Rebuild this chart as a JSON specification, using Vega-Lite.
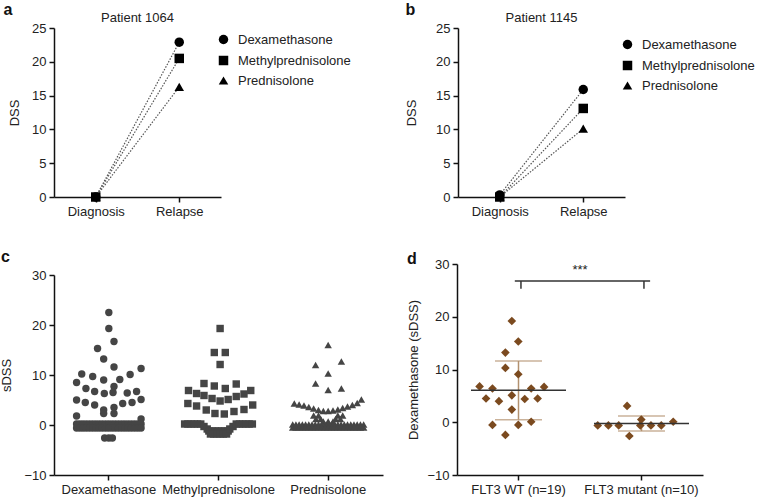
{
  "$schema": "https://vega.github.io/schema/vega-lite/v6.json",
  "background": "white",
  "padding": {"left": 0, "top": 2, "right": 2, "bottom": 2},
  "config": {
    "font": "Liberation Sans",
    "view": {"stroke": null},
    "axis": {"labelFontSize": 13, "titleFontSize": 13, "titleFontWeight": "normal", "labelColor": "#222", "titleColor": "#222", "domainColor": "#111", "domainWidth": 1.5, "tickColor": "#111", "tickWidth": 1.5, "tickSize": 5, "grid": false, "labelPadding": 3},
    "axisY": {"titlePadding": 10},
    "title": {"fontSize": 13, "fontWeight": "normal", "color": "#222"},
    "legend": {"labelFontSize": 13, "labelColor": "#222"}
  },
  "datasets": {
    "p1064": [
      {"time": "Diagnosis", "drug": "Dexamethasone", "DSS": 0},
      {"time": "Relapse", "drug": "Dexamethasone", "DSS": 22.9},
      {"time": "Diagnosis", "drug": "Methylprednisolone", "DSS": 0},
      {"time": "Relapse", "drug": "Methylprednisolone", "DSS": 20.5},
      {"time": "Diagnosis", "drug": "Prednisolone", "DSS": 0},
      {"time": "Relapse", "drug": "Prednisolone", "DSS": 16.3}
    ],
    "p1145": [
      {"time": "Diagnosis", "drug": "Dexamethasone", "DSS": 0.3},
      {"time": "Relapse", "drug": "Dexamethasone", "DSS": 15.9},
      {"time": "Diagnosis", "drug": "Methylprednisolone", "DSS": 0},
      {"time": "Relapse", "drug": "Methylprednisolone", "DSS": 13.1},
      {"time": "Diagnosis", "drug": "Prednisolone", "DSS": 0},
      {"time": "Relapse", "drug": "Prednisolone", "DSS": 10.1}
    ],
    "screen": [
      {"drug": "Dexamethasone", "slot": 0, "sDSS": 22.5},
      {"drug": "Dexamethasone", "slot": 0, "sDSS": 19.3},
      {"drug": "Dexamethasone", "slot": 1.6, "sDSS": 16.7},
      {"drug": "Dexamethasone", "slot": -3.5, "sDSS": 15.3},
      {"drug": "Dexamethasone", "slot": -1.6, "sDSS": 13.2},
      {"drug": "Dexamethasone", "slot": 1.6, "sDSS": 11.6},
      {"drug": "Dexamethasone", "slot": 10, "sDSS": 11.3},
      {"drug": "Dexamethasone", "slot": -8.4, "sDSS": 10.2},
      {"drug": "Dexamethasone", "slot": 6.6, "sDSS": 10.1},
      {"drug": "Dexamethasone", "slot": -5, "sDSS": 9.7},
      {"drug": "Dexamethasone", "slot": -10, "sDSS": 8.5},
      {"drug": "Dexamethasone", "slot": -1.6, "sDSS": 9.0},
      {"drug": "Dexamethasone", "slot": 3.4, "sDSS": 9.1},
      {"drug": "Dexamethasone", "slot": 1.6, "sDSS": 7.7},
      {"drug": "Dexamethasone", "slot": -7.1, "sDSS": 7.3},
      {"drug": "Dexamethasone", "slot": -4.4, "sDSS": 6.7},
      {"drug": "Dexamethasone", "slot": -1.4, "sDSS": 6.3},
      {"drug": "Dexamethasone", "slot": 1.3, "sDSS": 6.5},
      {"drug": "Dexamethasone", "slot": 5.7, "sDSS": 6.4},
      {"drug": "Dexamethasone", "slot": 8.6, "sDSS": 6.7},
      {"drug": "Dexamethasone", "slot": -10, "sDSS": 5.0},
      {"drug": "Dexamethasone", "slot": -7.3, "sDSS": 4.5},
      {"drug": "Dexamethasone", "slot": -4.4, "sDSS": 4.0},
      {"drug": "Dexamethasone", "slot": 4.3, "sDSS": 4.3},
      {"drug": "Dexamethasone", "slot": 7.2, "sDSS": 4.5},
      {"drug": "Dexamethasone", "slot": 10, "sDSS": 5.1},
      {"drug": "Dexamethasone", "slot": -1.6, "sDSS": 3.0},
      {"drug": "Dexamethasone", "slot": 1.6, "sDSS": 3.5},
      {"drug": "Dexamethasone", "slot": -1.6, "sDSS": 2.3},
      {"drug": "Dexamethasone", "slot": 1.6, "sDSS": 2.3},
      {"drug": "Dexamethasone", "slot": -10, "sDSS": 1.8},
      {"drug": "Dexamethasone", "slot": 10, "sDSS": 1.2},
      {"drug": "Dexamethasone", "slot": -10, "sDSS": 0.2},
      {"drug": "Dexamethasone", "slot": -9, "sDSS": 0.2},
      {"drug": "Dexamethasone", "slot": -8, "sDSS": 0.2},
      {"drug": "Dexamethasone", "slot": -7, "sDSS": 0.2},
      {"drug": "Dexamethasone", "slot": -6, "sDSS": 0.2},
      {"drug": "Dexamethasone", "slot": -5, "sDSS": 0.2},
      {"drug": "Dexamethasone", "slot": -4, "sDSS": 0.2},
      {"drug": "Dexamethasone", "slot": -3, "sDSS": 0.2},
      {"drug": "Dexamethasone", "slot": -2, "sDSS": 0.2},
      {"drug": "Dexamethasone", "slot": -1, "sDSS": 0.2},
      {"drug": "Dexamethasone", "slot": 0, "sDSS": 0.2},
      {"drug": "Dexamethasone", "slot": 1, "sDSS": 0.2},
      {"drug": "Dexamethasone", "slot": 2, "sDSS": 0.2},
      {"drug": "Dexamethasone", "slot": 3, "sDSS": 0.2},
      {"drug": "Dexamethasone", "slot": 4, "sDSS": 0.2},
      {"drug": "Dexamethasone", "slot": 5, "sDSS": 0.2},
      {"drug": "Dexamethasone", "slot": 6, "sDSS": 0.2},
      {"drug": "Dexamethasone", "slot": 7, "sDSS": 0.2},
      {"drug": "Dexamethasone", "slot": 8, "sDSS": 0.2},
      {"drug": "Dexamethasone", "slot": 9, "sDSS": 0.2},
      {"drug": "Dexamethasone", "slot": 10, "sDSS": 0.2},
      {"drug": "Dexamethasone", "slot": -10, "sDSS": -0.6},
      {"drug": "Dexamethasone", "slot": -9, "sDSS": -0.6},
      {"drug": "Dexamethasone", "slot": -8, "sDSS": -0.6},
      {"drug": "Dexamethasone", "slot": -7, "sDSS": -0.6},
      {"drug": "Dexamethasone", "slot": -6, "sDSS": -0.6},
      {"drug": "Dexamethasone", "slot": -5, "sDSS": -0.6},
      {"drug": "Dexamethasone", "slot": -4, "sDSS": -0.6},
      {"drug": "Dexamethasone", "slot": -3, "sDSS": -0.6},
      {"drug": "Dexamethasone", "slot": -2, "sDSS": -0.6},
      {"drug": "Dexamethasone", "slot": -1, "sDSS": -0.6},
      {"drug": "Dexamethasone", "slot": 0, "sDSS": -0.6},
      {"drug": "Dexamethasone", "slot": 1, "sDSS": -0.6},
      {"drug": "Dexamethasone", "slot": 2, "sDSS": -0.6},
      {"drug": "Dexamethasone", "slot": 3, "sDSS": -0.6},
      {"drug": "Dexamethasone", "slot": 4, "sDSS": -0.6},
      {"drug": "Dexamethasone", "slot": 5, "sDSS": -0.6},
      {"drug": "Dexamethasone", "slot": 6, "sDSS": -0.6},
      {"drug": "Dexamethasone", "slot": 7, "sDSS": -0.6},
      {"drug": "Dexamethasone", "slot": 8, "sDSS": -0.6},
      {"drug": "Dexamethasone", "slot": 9, "sDSS": -0.6},
      {"drug": "Dexamethasone", "slot": 10, "sDSS": -0.6},
      {"drug": "Dexamethasone", "slot": -1.3, "sDSS": -2.6},
      {"drug": "Dexamethasone", "slot": 0, "sDSS": -2.6},
      {"drug": "Dexamethasone", "slot": 1.1, "sDSS": -2.6},
      {"drug": "Methylprednisolone", "slot": 0.5, "sDSS": 19.3},
      {"drug": "Methylprednisolone", "slot": -1.3, "sDSS": 14.5},
      {"drug": "Methylprednisolone", "slot": 2.1, "sDSS": 14.5},
      {"drug": "Methylprednisolone", "slot": 0.5, "sDSS": 12.1},
      {"drug": "Methylprednisolone", "slot": -4.5, "sDSS": 8.3},
      {"drug": "Methylprednisolone", "slot": -1.3, "sDSS": 7.8},
      {"drug": "Methylprednisolone", "slot": 2.1, "sDSS": 7.3},
      {"drug": "Methylprednisolone", "slot": 5.5, "sDSS": 8.2},
      {"drug": "Methylprednisolone", "slot": -9.3, "sDSS": 6.9},
      {"drug": "Methylprednisolone", "slot": -6.8, "sDSS": 6.3},
      {"drug": "Methylprednisolone", "slot": -4.5, "sDSS": 5.9},
      {"drug": "Methylprednisolone", "slot": -2, "sDSS": 5.3},
      {"drug": "Methylprednisolone", "slot": 0.5, "sDSS": 4.8},
      {"drug": "Methylprednisolone", "slot": 3, "sDSS": 5.1},
      {"drug": "Methylprednisolone", "slot": 5.5, "sDSS": 5.7},
      {"drug": "Methylprednisolone", "slot": 7.9, "sDSS": 6.2},
      {"drug": "Methylprednisolone", "slot": 10, "sDSS": 6.9},
      {"drug": "Methylprednisolone", "slot": -9.5, "sDSS": 4.3},
      {"drug": "Methylprednisolone", "slot": -6.8, "sDSS": 3.8},
      {"drug": "Methylprednisolone", "slot": -3.8, "sDSS": 3.0},
      {"drug": "Methylprednisolone", "slot": -1.1, "sDSS": 2.3},
      {"drug": "Methylprednisolone", "slot": 1.8, "sDSS": 2.2},
      {"drug": "Methylprednisolone", "slot": 4.8, "sDSS": 2.7},
      {"drug": "Methylprednisolone", "slot": 7.9, "sDSS": 3.1},
      {"drug": "Methylprednisolone", "slot": 10.6, "sDSS": 4.0},
      {"drug": "Methylprednisolone", "slot": -10.5, "sDSS": 0.2},
      {"drug": "Methylprednisolone", "slot": -9.5, "sDSS": 0.2},
      {"drug": "Methylprednisolone", "slot": -8.5, "sDSS": 0.2},
      {"drug": "Methylprednisolone", "slot": -7.5, "sDSS": 0.2},
      {"drug": "Methylprednisolone", "slot": -6.5, "sDSS": 0.2},
      {"drug": "Methylprednisolone", "slot": -5.5, "sDSS": 0.2},
      {"drug": "Methylprednisolone", "slot": -4.5, "sDSS": -0.3},
      {"drug": "Methylprednisolone", "slot": -3.5, "sDSS": -0.8},
      {"drug": "Methylprednisolone", "slot": -3, "sDSS": -1.2},
      {"drug": "Methylprednisolone", "slot": -2, "sDSS": -1.2},
      {"drug": "Methylprednisolone", "slot": -1, "sDSS": -1.2},
      {"drug": "Methylprednisolone", "slot": 0, "sDSS": -1.2},
      {"drug": "Methylprednisolone", "slot": 1, "sDSS": -1.2},
      {"drug": "Methylprednisolone", "slot": 2, "sDSS": -1.2},
      {"drug": "Methylprednisolone", "slot": 3, "sDSS": -1.2},
      {"drug": "Methylprednisolone", "slot": -2.5, "sDSS": -1.8},
      {"drug": "Methylprednisolone", "slot": -1.5, "sDSS": -1.8},
      {"drug": "Methylprednisolone", "slot": -0.5, "sDSS": -1.8},
      {"drug": "Methylprednisolone", "slot": 0.5, "sDSS": -1.8},
      {"drug": "Methylprednisolone", "slot": 1.5, "sDSS": -1.8},
      {"drug": "Methylprednisolone", "slot": 2.5, "sDSS": -1.8},
      {"drug": "Methylprednisolone", "slot": 3.5, "sDSS": -0.8},
      {"drug": "Methylprednisolone", "slot": 4.5, "sDSS": -0.3},
      {"drug": "Methylprednisolone", "slot": 5.5, "sDSS": 0.2},
      {"drug": "Methylprednisolone", "slot": 6.5, "sDSS": 0.2},
      {"drug": "Methylprednisolone", "slot": 7.5, "sDSS": 0.2},
      {"drug": "Methylprednisolone", "slot": 8.5, "sDSS": 0.2},
      {"drug": "Methylprednisolone", "slot": 9.5, "sDSS": 0.2},
      {"drug": "Methylprednisolone", "slot": 10.5, "sDSS": 0.2},
      {"drug": "Prednisolone", "slot": 0, "sDSS": 16.0},
      {"drug": "Prednisolone", "slot": -3.9, "sDSS": 12.0},
      {"drug": "Prednisolone", "slot": 4.1, "sDSS": 12.7},
      {"drug": "Prednisolone", "slot": 0, "sDSS": 10.3},
      {"drug": "Prednisolone", "slot": -3.9, "sDSS": 8.3},
      {"drug": "Prednisolone", "slot": 0, "sDSS": 7.0},
      {"drug": "Prednisolone", "slot": 4.1, "sDSS": 7.3},
      {"drug": "Prednisolone", "slot": -10.5, "sDSS": 4.3},
      {"drug": "Prednisolone", "slot": -9, "sDSS": 4.1},
      {"drug": "Prednisolone", "slot": -7.5, "sDSS": 3.9},
      {"drug": "Prednisolone", "slot": -6, "sDSS": 3.6},
      {"drug": "Prednisolone", "slot": -4.5, "sDSS": 3.3},
      {"drug": "Prednisolone", "slot": -3, "sDSS": 3.0},
      {"drug": "Prednisolone", "slot": -1.5, "sDSS": 2.8},
      {"drug": "Prednisolone", "slot": 0, "sDSS": 2.8},
      {"drug": "Prednisolone", "slot": 1.5, "sDSS": 2.9},
      {"drug": "Prednisolone", "slot": 3, "sDSS": 3.1},
      {"drug": "Prednisolone", "slot": 4.5, "sDSS": 3.4},
      {"drug": "Prednisolone", "slot": 6, "sDSS": 3.7},
      {"drug": "Prednisolone", "slot": 7.5, "sDSS": 4.0},
      {"drug": "Prednisolone", "slot": 9, "sDSS": 4.4},
      {"drug": "Prednisolone", "slot": 10.3, "sDSS": 5.1},
      {"drug": "Prednisolone", "slot": -4.5, "sDSS": 1.9},
      {"drug": "Prednisolone", "slot": -3, "sDSS": 1.9},
      {"drug": "Prednisolone", "slot": 3, "sDSS": 1.9},
      {"drug": "Prednisolone", "slot": 4.5, "sDSS": 1.9},
      {"drug": "Prednisolone", "slot": -3.8, "sDSS": 1.2},
      {"drug": "Prednisolone", "slot": -2.3, "sDSS": 1.2},
      {"drug": "Prednisolone", "slot": 2.3, "sDSS": 1.2},
      {"drug": "Prednisolone", "slot": 3.8, "sDSS": 1.2},
      {"drug": "Prednisolone", "slot": -1.5, "sDSS": 0.7},
      {"drug": "Prednisolone", "slot": 0, "sDSS": 0.7},
      {"drug": "Prednisolone", "slot": 1.5, "sDSS": 0.7},
      {"drug": "Prednisolone", "slot": -11, "sDSS": 0.1},
      {"drug": "Prednisolone", "slot": -10, "sDSS": 0.1},
      {"drug": "Prednisolone", "slot": -9, "sDSS": 0.1},
      {"drug": "Prednisolone", "slot": -8, "sDSS": 0.1},
      {"drug": "Prednisolone", "slot": -7, "sDSS": 0.1},
      {"drug": "Prednisolone", "slot": -6, "sDSS": 0.1},
      {"drug": "Prednisolone", "slot": -5, "sDSS": 0.1},
      {"drug": "Prednisolone", "slot": -4, "sDSS": 0.1},
      {"drug": "Prednisolone", "slot": -3, "sDSS": 0.1},
      {"drug": "Prednisolone", "slot": -2, "sDSS": 0.1},
      {"drug": "Prednisolone", "slot": -1, "sDSS": 0.1},
      {"drug": "Prednisolone", "slot": 0, "sDSS": 0.1},
      {"drug": "Prednisolone", "slot": 1, "sDSS": 0.1},
      {"drug": "Prednisolone", "slot": 2, "sDSS": 0.1},
      {"drug": "Prednisolone", "slot": 3, "sDSS": 0.1},
      {"drug": "Prednisolone", "slot": 4, "sDSS": 0.1},
      {"drug": "Prednisolone", "slot": 5, "sDSS": 0.1},
      {"drug": "Prednisolone", "slot": 6, "sDSS": 0.1},
      {"drug": "Prednisolone", "slot": 7, "sDSS": 0.1},
      {"drug": "Prednisolone", "slot": 8, "sDSS": 0.1},
      {"drug": "Prednisolone", "slot": 9, "sDSS": 0.1},
      {"drug": "Prednisolone", "slot": 10, "sDSS": 0.1},
      {"drug": "Prednisolone", "slot": 11, "sDSS": 0.1},
      {"drug": "Prednisolone", "slot": -11, "sDSS": -0.5},
      {"drug": "Prednisolone", "slot": -10, "sDSS": -0.5},
      {"drug": "Prednisolone", "slot": -9, "sDSS": -0.5},
      {"drug": "Prednisolone", "slot": -8, "sDSS": -0.5},
      {"drug": "Prednisolone", "slot": -7, "sDSS": -0.5},
      {"drug": "Prednisolone", "slot": -6, "sDSS": -0.5},
      {"drug": "Prednisolone", "slot": -5, "sDSS": -0.5},
      {"drug": "Prednisolone", "slot": -4, "sDSS": -0.5},
      {"drug": "Prednisolone", "slot": -3, "sDSS": -0.5},
      {"drug": "Prednisolone", "slot": -2, "sDSS": -0.5},
      {"drug": "Prednisolone", "slot": -1, "sDSS": -0.5},
      {"drug": "Prednisolone", "slot": 0, "sDSS": -0.5},
      {"drug": "Prednisolone", "slot": 1, "sDSS": -0.5},
      {"drug": "Prednisolone", "slot": 2, "sDSS": -0.5},
      {"drug": "Prednisolone", "slot": 3, "sDSS": -0.5},
      {"drug": "Prednisolone", "slot": 4, "sDSS": -0.5},
      {"drug": "Prednisolone", "slot": 5, "sDSS": -0.5},
      {"drug": "Prednisolone", "slot": 6, "sDSS": -0.5},
      {"drug": "Prednisolone", "slot": 7, "sDSS": -0.5},
      {"drug": "Prednisolone", "slot": 8, "sDSS": -0.5},
      {"drug": "Prednisolone", "slot": 9, "sDSS": -0.5},
      {"drug": "Prednisolone", "slot": 10, "sDSS": -0.5},
      {"drug": "Prednisolone", "slot": 11, "sDSS": -0.5}
    ],
    "flt3": [
      {"group": "FLT3 WT (n=19)", "slot": 0, "value": 19.2},
      {"group": "FLT3 WT (n=19)", "slot": 2, "value": 15.3},
      {"group": "FLT3 WT (n=19)", "slot": -2, "value": 13.2},
      {"group": "FLT3 WT (n=19)", "slot": -2, "value": 10.3},
      {"group": "FLT3 WT (n=19)", "slot": 2, "value": 9.1},
      {"group": "FLT3 WT (n=19)", "slot": -10, "value": 6.8},
      {"group": "FLT3 WT (n=19)", "slot": -6, "value": 6.4},
      {"group": "FLT3 WT (n=19)", "slot": 6, "value": 6.4},
      {"group": "FLT3 WT (n=19)", "slot": 10, "value": 6.7},
      {"group": "FLT3 WT (n=19)", "slot": -8, "value": 4.5},
      {"group": "FLT3 WT (n=19)", "slot": -4, "value": 4.0},
      {"group": "FLT3 WT (n=19)", "slot": 0, "value": 5.1},
      {"group": "FLT3 WT (n=19)", "slot": 4, "value": 4.4},
      {"group": "FLT3 WT (n=19)", "slot": 8, "value": 4.5},
      {"group": "FLT3 WT (n=19)", "slot": 0, "value": 2.4},
      {"group": "FLT3 WT (n=19)", "slot": -6, "value": -0.5},
      {"group": "FLT3 WT (n=19)", "slot": 2, "value": -0.5},
      {"group": "FLT3 WT (n=19)", "slot": 6, "value": 0.1},
      {"group": "FLT3 WT (n=19)", "slot": -2, "value": -2.4},
      {"group": "FLT3 mutant (n=10)", "slot": -11.5, "value": -0.6},
      {"group": "FLT3 mutant (n=10)", "slot": -8.2, "value": -0.6},
      {"group": "FLT3 mutant (n=10)", "slot": -5, "value": -0.6},
      {"group": "FLT3 mutant (n=10)", "slot": -2.4, "value": 3.1},
      {"group": "FLT3 mutant (n=10)", "slot": -1.7, "value": -2.6},
      {"group": "FLT3 mutant (n=10)", "slot": 1.7, "value": -0.6},
      {"group": "FLT3 mutant (n=10)", "slot": 2, "value": 0.5},
      {"group": "FLT3 mutant (n=10)", "slot": 5, "value": -0.6},
      {"group": "FLT3 mutant (n=10)", "slot": 8.2, "value": -0.6},
      {"group": "FLT3 mutant (n=10)", "slot": 11.9, "value": 0.1}
    ],
    "bracket": [
      {"from": "FLT3 WT (n=19)", "to": "FLT3 mutant (n=10)", "top": 26.8, "label": "***", "labelY": 28.8}
    ],
    "legs": [
      {"group": "FLT3 WT (n=19)", "top": 26.8, "bottom": 25.3},
      {"group": "FLT3 mutant (n=10)", "top": 26.8, "bottom": 25.3}
    ]
  },
  "spacing": 31,
  "vconcat": [
    {
      "spacing": 54,
      "resolve": {"scale": {"shape": "independent"}, "legend": {"shape": "independent"}},
      "hconcat": [
        {
          "title": {"text": "a", "anchor": "start", "frame": "bounds", "fontSize": 16, "fontWeight": "bold", "color": "#111", "offset": -6, "dx": -5},
          "vconcat": [
            {
              "width": 167, "height": 169,
              "title": {"text": "Patient 1064", "offset": -3},
              "data": {"name": "p1064"},
              "encoding": {
                "x": {"field": "time", "type": "nominal", "sort": ["Diagnosis", "Relapse"], "scale": {"type": "point", "padding": 0.5}, "axis": {"title": null, "labelAngle": 0}},
                "y": {"field": "DSS", "type": "quantitative", "scale": {"domain": [0, 25]}, "axis": {"values": [0, 5, 10, 15, 20, 25], "title": "DSS"}}
              },
              "layer": [
                {"mark": {"type": "line", "color": "#555", "strokeDash": [1.5, 1.5], "strokeWidth": 1.2}, "encoding": {"detail": {"field": "drug", "type": "nominal"}}},
                {"mark": {"type": "point", "filled": true, "opacity": 1, "color": "#000", "size": 90},
                 "encoding": {"shape": {"field": "drug", "type": "nominal", "scale": {"domain": ["Dexamethasone", "Methylprednisolone", "Prednisolone"], "range": ["circle", "square", "triangle-up"]},
                   "legend": {"title": null, "orient": "none", "legendX": 163, "legendY": 5, "symbolSize": 90, "symbolFillColor": "#000", "symbolStrokeColor": "#000", "rowPadding": 4, "labelOffset": 8}}}}
              ]
            }
          ]
        },
        {
          "title": {"text": "b", "anchor": "start", "frame": "bounds", "fontSize": 16, "fontWeight": "bold", "color": "#111", "offset": -6, "dx": 0},
          "vconcat": [
            {
              "width": 167, "height": 169,
              "title": {"text": "Patient 1145", "offset": -3},
              "data": {"name": "p1145"},
              "encoding": {
                "x": {"field": "time", "type": "nominal", "sort": ["Diagnosis", "Relapse"], "scale": {"type": "point", "padding": 0.5}, "axis": {"title": null, "labelAngle": 0}},
                "y": {"field": "DSS", "type": "quantitative", "scale": {"domain": [0, 25]}, "axis": {"values": [0, 5, 10, 15, 20, 25], "title": "DSS", "titlePadding": 17}}
              },
              "layer": [
                {"mark": {"type": "line", "color": "#555", "strokeDash": [1.5, 1.5], "strokeWidth": 1.2}, "encoding": {"detail": {"field": "drug", "type": "nominal"}}},
                {"mark": {"type": "point", "filled": true, "opacity": 1, "color": "#000", "size": 90},
                 "encoding": {"shape": {"field": "drug", "type": "nominal", "scale": {"domain": ["Dexamethasone", "Methylprednisolone", "Prednisolone"], "range": ["circle", "square", "triangle-up"]},
                   "legend": {"title": null, "orient": "none", "legendX": 163, "legendY": 10, "symbolSize": 90, "symbolFillColor": "#000", "symbolStrokeColor": "#000", "rowPadding": 4, "labelOffset": 8}}}}
              ]
            }
          ]
        }
      ]
    },
    {
      "spacing": 23,
      "resolve": {"scale": {"shape": "independent"}, "legend": {"shape": "independent"}},
      "hconcat": [
        {
          "title": {"text": "c", "anchor": "start", "frame": "bounds", "fontSize": 16, "fontWeight": "bold", "color": "#111", "offset": -1, "dx": 0},
          "spacing": 0,
          "vconcat": [
            {"width": 329, "height": 5, "data": {"values": []}, "mark": {"type": "point", "opacity": 0}, "encoding": {}},
            {
              "width": 329, "height": 200,
              "data": {"name": "screen"},
              "mark": {"type": "point", "filled": true, "opacity": 1, "color": "#454545", "size": 55},
              "encoding": {
                "x": {"field": "drug", "type": "nominal", "sort": ["Dexamethasone", "Methylprednisolone", "Prednisolone"], "scale": {"type": "band", "padding": 0}, "axis": {"title": null, "labelAngle": 0}},
                "xOffset": {"field": "slot", "type": "quantitative", "scale": {"domain": [-15, 15]}},
                "y": {"field": "sDSS", "type": "quantitative", "scale": {"domain": [-10, 30]}, "axis": {"values": [-10, 0, 10, 20, 30], "title": "sDSS"}},
                "shape": {"field": "drug", "type": "nominal", "scale": {"domain": ["Dexamethasone", "Methylprednisolone", "Prednisolone"], "range": ["circle", "square", "triangle-up"]}, "legend": null}
              }
            }
          ]
        },
        {
          "title": {"text": "d", "anchor": "start", "frame": "bounds", "fontSize": 16, "fontWeight": "bold", "color": "#111", "offset": -9, "dx": -1},
          "vconcat": [
            {
              "width": 246, "height": 211,
              "layer": [
                {"data": {"name": "flt3"}, "mark": {"type": "errorbar", "extent": "stdev", "color": "#b3916f", "ticks": {"size": 47, "thickness": 1.5, "color": "#b3916f"}, "rule": {"strokeWidth": 1.5, "color": "#b3916f"}},
                 "encoding": {"x": {"field": "group", "type": "nominal"}, "y": {"field": "value", "type": "quantitative"}}},
                {"data": {"name": "flt3"}, "mark": {"type": "point", "shape": "diamond", "filled": true, "opacity": 1, "color": "#7b4a1f", "size": 75},
                 "encoding": {"x": {"field": "group", "type": "nominal"}, "xOffset": {"field": "slot", "type": "quantitative", "scale": {"domain": [-17, 17]}}, "y": {"field": "value", "type": "quantitative"}}},
                {"data": {"name": "flt3"}, "mark": {"type": "tick", "color": "#333", "size": 95, "thickness": 1.5},
                 "encoding": {"x": {"field": "group", "type": "nominal"}, "y": {"aggregate": "mean", "field": "value", "type": "quantitative"}}},
                {"data": {"name": "bracket"}, "mark": {"type": "rule", "color": "#333", "strokeWidth": 1.5},
                 "encoding": {"x": {"field": "from", "type": "nominal", "bandPosition": 0.47}, "x2": {"field": "to", "bandPosition": 0.57}, "y": {"field": "top", "type": "quantitative"}}},
                {"data": {"name": "legs"}, "mark": {"type": "rule", "color": "#333", "strokeWidth": 1.5},
                 "encoding": {"x": {"field": "group", "type": "nominal", "bandPosition": 0.52}, "y": {"field": "top", "type": "quantitative"}, "y2": {"field": "bottom"}}},
                {"data": {"name": "bracket"}, "mark": {"type": "text", "fontSize": 13, "color": "#222", "baseline": "middle"},
                 "encoding": {"x": {"field": "from", "type": "nominal", "bandPosition": 1}, "y": {"field": "labelY", "type": "quantitative"}, "text": {"field": "label"}}}
              ],
              "encoding": {
                "x": {"field": "group", "type": "nominal", "sort": ["FLT3 WT (n=19)", "FLT3 mutant (n=10)"], "scale": {"type": "band", "padding": 0, "domain": ["FLT3 WT (n=19)", "FLT3 mutant (n=10)"]}, "axis": {"title": null, "labelAngle": 0}},
                "y": {"field": "value", "type": "quantitative", "scale": {"domain": [-10, 30]}, "axis": {"values": [-10, 0, 10, 20, 30], "title": "Dexamethasone (sDSS)", "titlePadding": 6}}
              }
            }
          ]
        }
      ]
    }
  ]
}
